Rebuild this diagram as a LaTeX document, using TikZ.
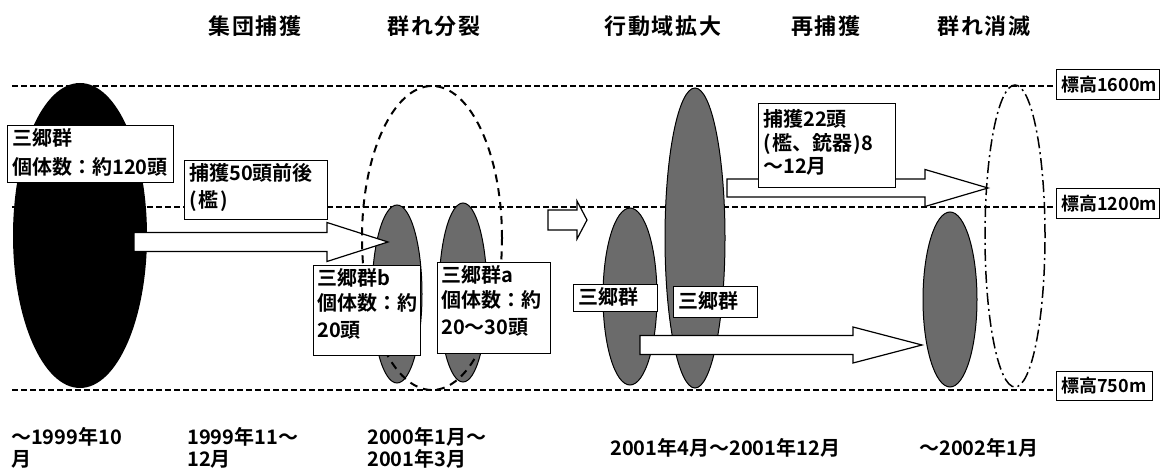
\documentclass[tikz,border=0pt]{standalone}
\usepackage{fontspec}
\setmainfont{Noto Sans CJK JP}[BoldFont={Noto Sans CJK JP Bold}]
\usetikzlibrary{shapes.geometric,calc}
\newcommand\blockarr[5]{%
  \draw[blockarrow] ($(#1)+(0,#3)$) -- ($(#2)+(-#5,#3)$) -- ($(#2)+(-#5,#4)$) -- (#2)
    -- ($(#2)+(-#5,-#4)$) -- ($(#2)+(-#5,-#3)$) -- ($(#1)+(0,-#3)$) -- cycle;}
\begin{document}
\begin{tikzpicture}[x=1pt,y=-1pt,
  hline/.style={line width=1.6pt, dash pattern=on 6pt off 3pt},
  herd/.style={ellipse, draw, line width=1pt, fill=black!58, inner sep=0pt},
  blockarrow/.style={draw, fill=white, line width=1.2pt, line join=miter},
  boxst/.style={draw, fill=white, line width=1.2pt, inner sep=0pt, anchor=north west},
  txt/.style={anchor=base west, inner sep=0pt, font=\fontsize{20}{24}\selectfont\bfseries},
  labtxt/.style={anchor=west, inner sep=0pt, font=\fontsize{18}{22}\selectfont\bfseries},
  title/.style={inner sep=0pt, font=\fontsize{22}{26}\selectfont\bfseries\addfontfeature{LetterSpace=8}},
  date/.style={anchor=base west, inner sep=0pt, font=\fontsize{20}{24}\selectfont\bfseries}]
\useasboundingbox (0,0) rectangle (1168,470);

% elevation label boxes
\node[boxst, minimum width=103pt, minimum height=30pt] (lab1600) at (1056,69) {};
\node[boxst, minimum width=103pt, minimum height=30pt] (lab1200) at (1056,188) {};
\node[boxst, minimum width=96pt, minimum height=29pt] (lab750) at (1056,371) {};
\node[labtxt] (t1600) at ($(lab1600.west)+(5,0)$) {標高1600m};
\node[labtxt] (t1200) at ($(lab1200.west)+(5,0)$) {標高1200m};
\node[labtxt] (t750) at ($(lab750.west)+(5,0)$) {標高750m};

% elevation lines
\coordinate (l1) at (12,86);
\coordinate (l2) at (12,207);
\coordinate (l3) at (12,390);
\draw[hline] (l1) -- (l1 -| lab1600.west);
\draw[hline] (l2) -- (l2 -| lab1200.west);
\draw[hline] (l3) -- (l3 -| lab750.west);

% herds
\node[herd, fill=black, draw=none, minimum width=134pt, minimum height=305pt] (h0) at (80,235.5) {};
\node[herd, minimum width=50pt, minimum height=178pt] (hb) at (397,294) {};
\node[herd, minimum width=48pt, minimum height=179pt] (ha) at (463,292.5) {};
\node[herd, minimum width=54pt, minimum height=177pt] (hc) at (630,296.5) {};
\node[herd, minimum width=60pt, minimum height=300pt] (hd) at (695,238) {};
\node[herd, minimum width=54pt, minimum height=175pt] (he) at (950,299.5) {};

% block arrows
\coordinate (a1s) at (134,242); \coordinate (a1t) at (388,242);
\coordinate (a2s) at (548,220); \coordinate (a2t) at (587,220);
\coordinate (a3s) at (727,188); \coordinate (a3t) at (988,188);
\coordinate (a4s) at (640,345); \coordinate (a4t) at (922,345);
\blockarr{a1s}{a1t}{9.5}{19.5}{61}
\blockarr{a2s}{a2t}{10}{19}{10}
\blockarr{a3s}{a3t}{9}{18.5}{63}
\blockarr{a4s}{a4t}{9.5}{18}{69}

% group outlines
\node[ellipse, draw, line width=2pt, dash pattern=on 8pt off 6pt, minimum width=140pt, minimum height=304pt, inner sep=0pt] (split) at (432,238) {};
\node[ellipse, draw, line width=1.5pt, dash pattern=on 12pt off 4pt on 2pt off 4pt, minimum width=60pt, minimum height=302pt, inner sep=0pt] (gone) at (1015,236) {};

% text boxes
\node[boxst, minimum width=166pt, minimum height=57pt] (bx0) at (7,125) {};
\node[txt] (t0a) at (12,145.6) {三郷群};
\node[txt] (t0b) at (12,174.6) {個体数：約120頭};

\node[boxst, minimum width=143pt, minimum height=59pt] (bx50) at (184,160) {};
\node[txt] (t50a) at (189,180.6) {捕獲50頭前後};
\node[txt] (t50b) at (189,207.6) {(\kern2pt檻\kern2pt)};

\node[boxst, minimum width=107pt, minimum height=90pt] (bxb) at (313,265) {};
\node[txt] (tba) at (317,285.6) {三郷群b};
\node[txt] (tbb) at (317,310.6) {個体数：約};
\node[txt] (tbc) at (317,337.6) {20頭};

\node[boxst, minimum width=113pt, minimum height=91pt] (bxa) at (437,262) {};
\node[txt] (taa) at (441,282.6) {三郷群a};
\node[txt] (tab) at (441,307.6) {個体数：約};
\node[txt] (tac) at (441,334.6) {20～30頭};

\node[boxst, minimum width=84pt, minimum height=27pt] (bxc1) at (573,284) {};
\node[txt] (tc1) at (578,305) {三郷群};
\node[boxst, minimum width=84pt, minimum height=31pt] (bxc2) at (673,286) {};
\node[txt] (tc2) at (678,308.5) {三郷群};

\node[boxst, minimum width=137pt, minimum height=84pt] (bx22) at (758,103) {};
\node[txt] (t22a) at (763,126.6) {捕獲22頭};
\node[txt] (t22b) at (763,150.6) {(\kern2pt檻、銃器\kern1pt)8};
\node[txt] (t22c) at (763,173.6) {～12月};

% phase titles
\node[title] (p1) at (255,26) {集団捕獲};
\node[title] (p2) at (434,26) {群れ分裂};
\node[title] (p3) at (663,26) {行動域拡大};
\node[title] (p4) at (826,26) {再捕獲};
\node[title] (p5) at (984,26) {群れ消滅};

% dates
\node[date] (d1a) at (11,444) {～1999年10};
\node[date] (d1b) at (11,466) {月};
\node[date] (d2a) at (187,444) {1999年11～};
\node[date] (d2b) at (187,466) {12月};
\node[date] (d3a) at (367,444) {2000年1月～};
\node[date] (d3b) at (367,466) {2001年3月};
\node[date] (d4) at (610,455) {2001年4月～2001年12月};
\node[date] (d5) at (919,455) {～2002年1月};
\end{tikzpicture}
\end{document}
